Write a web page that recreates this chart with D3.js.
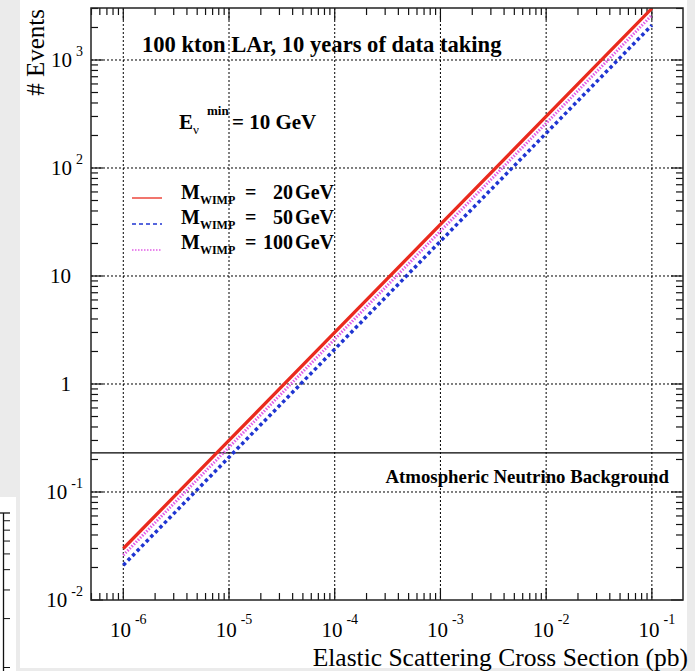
<!DOCTYPE html>
<html>
<head>
<meta charset="utf-8">
<script src="https://cdn.jsdelivr.net/npm/d3@7"></script>
<style>
  html, body { margin: 0; padding: 0; background: #ebebeb; }
  svg { display: block; }
  text { font-family: "Liberation Serif", "Times New Roman", serif; fill: #000; }
</style>
</head>
<body>
<div id="container"></div>
<script>
// ---- data ----
const xTicks = [1e-6, 1e-5, 1e-4, 1e-3, 1e-2, 1e-1];
const xTickExp = ["-6", "-5", "-4", "-3", "-2", "-1"];
const yTicks = [1e-2, 1e-1, 1, 10, 100, 1000];
const yTickBase = ["10", "10", "1", "10", "10", "10"];
const yTickExp = ["-2", "-1", "", "", "2", "3"];

const sigma = [1e-6, 1e-5, 1e-4, 1e-3, 1e-2, 1e-1];
const events20 = [0.030, 0.30, 3.0, 30, 300, 3000];
const events50 = [0.021, 0.21, 2.1, 21, 210, 2100];
const events100 = [0.026, 0.26, 2.6, 26, 260, 2600];
const atmBackground = 0.23;

const legendMass = ["20", "50", "100"];

// ---- layout ----
const W = 695, H = 671;
const frame = { left: 91, right: 683, top: 8, bottom: 600 };

const svg = d3.select("#container").append("svg")
    .attr("width", W)
    .attr("height", H);

// page panel
svg.append("rect").attr("x", 20).attr("y", 0).attr("width", 667).attr("height", 668).attr("fill", "#fff");

const x = d3.scaleLog()
    .domain([4.95e-7, 0.197])
    .range([frame.left, frame.right]);

const y = d3.scaleLog()
    .domain([0.01, 3030])
    .range([frame.bottom, frame.top]);

// small piece of a neighbouring figure at the left edge
const frag = svg.append("g");
frag.append("rect").attr("x", 0).attr("y", 497).attr("width", 16).attr("height", 174).attr("fill", "#fff");
const fragY = d3.scaleLog().domain([10, 0.1]).range([505, 830]);
const fragTicks = [];
[1, 0.1].forEach(dec => d3.range(1, 10).forEach(k => fragTicks.push(k * dec)));
frag.append("line").attr("x1", 3.5).attr("x2", 3.5).attr("y1", 513).attr("y2", 671)
    .attr("stroke", "#111").attr("stroke-width", 1.3);
frag.append("line").attr("x1", 0).attr("x2", 10).attr("y1", 513).attr("y2", 513)
    .attr("stroke", "#111").attr("stroke-width", 1.3);
frag.selectAll(".ft").data(fragTicks.filter(v => fragY(v) > 514 && fragY(v) < 671)).enter()
  .append("line")
    .attr("x1", 3.5).attr("x2", 10)
    .attr("y1", d => fragY(d)).attr("y2", d => fragY(d))
    .attr("stroke", "#111").attr("stroke-width", 1);

const plot = svg.append("g");

// clip for the curves
svg.append("clipPath").attr("id", "clip")
  .append("rect")
    .attr("x", frame.left).attr("y", frame.top)
    .attr("width", frame.right - frame.left).attr("height", frame.bottom - frame.top);

// dotted grid
plot.selectAll(".vgrid").data(xTicks).enter().append("line")
    .attr("x1", d => x(d)).attr("x2", d => x(d))
    .attr("y1", frame.top).attr("y2", frame.bottom)
    .attr("stroke", "#000").attr("stroke-width", 1).attr("stroke-dasharray", "2,2");
plot.selectAll(".hgrid").data(yTicks.slice(1)).enter().append("line")
    .attr("x1", frame.left).attr("x2", frame.right)
    .attr("y1", d => y(d)).attr("y2", d => y(d))
    .attr("stroke", "#000").attr("stroke-width", 1).attr("stroke-dasharray", "2,2");

// atmospheric background line
plot.append("line")
    .attr("x1", frame.left).attr("x2", frame.right)
    .attr("y1", y(atmBackground)).attr("y2", y(atmBackground))
    .attr("stroke", "#000").attr("stroke-width", 1.2);

// ticks (inward) on all four sides
const minorVals = (lo, hi) => {
  const out = [];
  for (let e = Math.floor(Math.log10(lo)); e <= Math.ceil(Math.log10(hi)); e++) {
    for (let k = 1; k < 10; k++) {
      const v = k * Math.pow(10, e);
      if (v >= lo && v <= hi) out.push({ v, major: k === 1 });
    }
  }
  return out;
};
const xt = minorVals(x.domain()[0], x.domain()[1]);
const yt = minorVals(y.domain()[0], y.domain()[1]);
const tk = d => (d.major ? 12 : 7);

plot.selectAll(".xtb").data(xt).enter().append("line")
    .attr("x1", d => x(d.v)).attr("x2", d => x(d.v))
    .attr("y1", frame.bottom).attr("y2", d => frame.bottom - tk(d))
    .attr("stroke", "#111").attr("stroke-width", 1.2);
plot.selectAll(".xtt").data(xt).enter().append("line")
    .attr("x1", d => x(d.v)).attr("x2", d => x(d.v))
    .attr("y1", frame.top).attr("y2", d => frame.top + tk(d))
    .attr("stroke", "#111").attr("stroke-width", 1.2);
plot.selectAll(".ytl").data(yt).enter().append("line")
    .attr("y1", d => y(d.v)).attr("y2", d => y(d.v))
    .attr("x1", frame.left).attr("x2", d => frame.left + tk(d))
    .attr("stroke", "#111").attr("stroke-width", 1.2);
plot.selectAll(".ytr").data(yt).enter().append("line")
    .attr("y1", d => y(d.v)).attr("y2", d => y(d.v))
    .attr("x1", frame.right).attr("x2", d => frame.right - tk(d))
    .attr("stroke", "#111").attr("stroke-width", 1.2);

// curves
const line = d3.line().x((d, i) => x(sigma[i])).y(d => y(d));
const curves = plot.append("g").attr("clip-path", "url(#clip)");
curves.append("path").datum(events50)
    .attr("d", line).attr("fill", "none")
    .attr("stroke", "#1f35d2").attr("stroke-width", 3.5).attr("stroke-dasharray", "3.5,3");
curves.append("path").datum(events100)
    .attr("d", line).attr("fill", "none")
    .attr("stroke", "#e25ee6").attr("stroke-width", 3).attr("stroke-dasharray", "1.5,1.5");
curves.append("path").datum(events20)
    .attr("d", line).attr("fill", "none")
    .attr("stroke", "#ea2a1e").attr("stroke-width", 3.3);

// frame
plot.append("rect")
    .attr("x", frame.left).attr("y", frame.top)
    .attr("width", frame.right - frame.left).attr("height", frame.bottom - frame.top)
    .attr("fill", "none").attr("stroke", "#222").attr("stroke-width", 1.5);

// x tick labels
const xl = plot.selectAll(".xl").data(xTicks).enter().append("text")
    .attr("x", d => x(d) + 5).attr("y", 637)
    .attr("text-anchor", "middle").style("font-size", "21px");
xl.append("tspan").text("10");
xl.append("tspan").attr("dx", 4).attr("dy", -13).style("font-size", "14px").text((d, i) => xTickExp[i]);

// y tick labels
const yl = plot.selectAll(".yl").data(yTicks).enter().append("text")
    .attr("x", (d, i) => yTickExp[i] ? 83 : 71)
    .attr("y", d => y(d) + 7)
    .attr("text-anchor", "end").style("font-size", "21px");
yl.append("tspan").text((d, i) => yTickBase[i]);
yl.filter((d, i) => yTickExp[i] !== "").append("tspan")
    .attr("dx", 4).attr("dy", -11).style("font-size", "14px")
    .text(d => yTickExp[yTicks.indexOf(d)]);

// axis titles
svg.append("text")
    .attr("x", 688).attr("y", 666)
    .attr("text-anchor", "end").style("font-size", "25.5px")
    .text("Elastic Scattering Cross Section (pb)");
svg.append("text")
    .attr("transform", "translate(44,9) rotate(-90)")
    .attr("text-anchor", "end").style("font-size", "25px")
    .text("# Events");

// annotations
svg.append("text")
    .attr("x", 142).attr("y", 52)
    .style("font-size", "22.6px").style("font-weight", "bold")
    .text("100 kton LAr, 10 years of data taking");

const emin = svg.append("text").attr("x", 179).attr("y", 129)
    .style("font-size", "21px").style("font-weight", "bold");
emin.append("tspan").text("E");
emin.append("tspan").attr("dy", 5).style("font-size", "13px").style("font-weight", "normal").text("ν");
emin.append("tspan").attr("x", 207).attr("y", 115).style("font-size", "13px").text("min");
emin.append("tspan").attr("x", 232).attr("y", 129).text("= 10 GeV");

svg.append("text")
    .attr("x", frame.right - 14).attr("y", 483)
    .attr("text-anchor", "end")
    .style("font-size", "18.8px").style("font-weight", "bold")
    .text("Atmospheric Neutrino Background");

// legend
const legendColors = ["#ea2a1e", "#1f35d2", "#e25ee6"];
const legendDash = [null, "4,3", "1.5,1.5"];
const legendY = [199, 224, 249];
const lg = svg.append("g");
legendMass.forEach((m, i) => {
  const ly = legendY[i];
  lg.append("line")
      .attr("x1", 132).attr("x2", 162).attr("y1", ly - 1 + i).attr("y2", ly - 1 + i)
      .attr("stroke", legendColors[i]).attr("stroke-width", 1.3)
      .attr("stroke-dasharray", legendDash[i]);
  const t = lg.append("text").attr("x", 181).attr("y", ly)
      .style("font-size", "20px").style("font-weight", "bold");
  t.append("tspan").text("M");
  t.append("tspan").attr("dy", 5).style("font-size", "12px").text("WIMP");
  t.append("tspan").attr("x", 245).attr("y", ly).text("=");
  const v = lg.append("text").attr("x", 334).attr("y", ly)
      .attr("text-anchor", "end")
      .style("font-size", "20px").style("font-weight", "bold");
  v.append("tspan").text(m);
  v.append("tspan").attr("dx", 2).text("GeV");
});
</script>
</body>
</html>
